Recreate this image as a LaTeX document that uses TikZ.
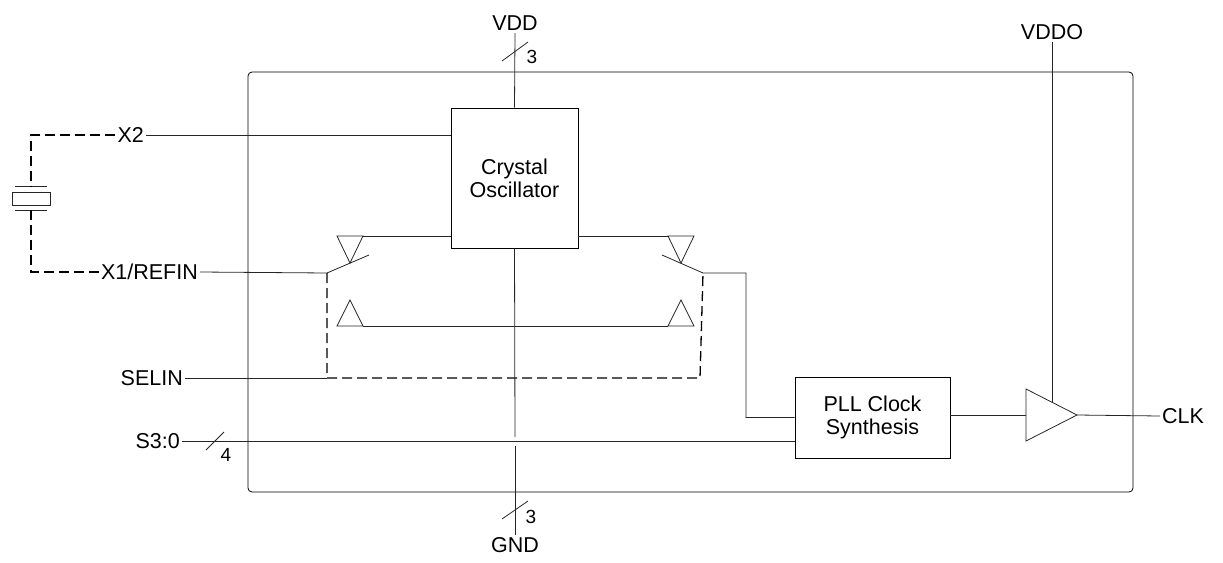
\documentclass[tikz,border=0pt]{standalone}
\usepackage{fontspec}
\setmainfont{Liberation Sans}
\usetikzlibrary{positioning}
\tikzstyle{wire} = [draw, line width=0.8pt, black!85]
\tikzstyle{dashwire} = [draw, line width=1.3pt, dash pattern=on 10pt off 5pt]
\tikzstyle{block} = [rectangle, draw, line width=0.8pt, align=center, inner sep=0pt,
font=\fontsize{21.5}{23}\selectfont]
\tikzstyle{pinname} = [inner sep=2pt, font=\fontsize{21.5}{23}\selectfont]
\tikzstyle{busnum} = [inner sep=0pt, font=\fontsize{19}{21}\selectfont]

\begin{document}
\begin{tikzpicture}[x=1pt, y=-1pt]
				\useasboundingbox (0,0) rectangle (1223,562);
				% Place nodes
				\node (chip) [rectangle, draw, line width=0.8pt, rounded corners=4pt, minimum width=885pt, minimum height=420pt] at (690.5,282) {};
				\node (xtal) [block, minimum width=127pt, minimum height=140pt] at (514.5,178) {Crystal\\Oscillator};
				\node (pll) [block, minimum width=155pt, minimum height=81pt] at (872.5,417.5) {PLL Clock\\Synthesis};
				\node (vdd) [pinname, anchor=south] at (515,33) {VDD};
				\node (gnd) [pinname, anchor=north] at (515,535) {GND};
				\node (vddo) [pinname, anchor=south] at (1052,42) {VDDO};
				\node (x2) [pinname, anchor=east] at (146,135) {X2};
				\node (x1) [pinname, anchor=east] at (200,272) {X1/REFIN};
				\node (selin) [pinname, anchor=east] at (185,378) {SELIN};
				\node (sel) [pinname, anchor=east] at (182,441) {S3:0};
				\node (clk) [pinname, anchor=west] at (1160,416) {CLK};
				\node (vddn) [busnum] at (532,57) {3};
				\node (gndn) [busnum] at (531,517) {3};
				\node (seln) [busnum] at (226,455) {4};

				% Crystal
				\coordinate (xtop) at (31,186);
				\coordinate (xbot) at (31,210);
				\draw [wire] (15,186) -- (47,186);
				\draw [wire] (15,210) -- (47,210);
				\draw [wire] (12,192) rectangle (50,205);
				\draw [dashwire] (x2.west) -| (xtop);
				\draw [dashwire] (x1.west) -| (xbot);
				\draw [wire] (x2.east) -- (xtal.west |- x2.east);

				% Switches
				\coordinate (swa) at (327,273);
				\coordinate (swb) at (703,273);
				\draw [wire] (x1.east) -- (swa) -- (369,255);
				\draw [wire] (662,255) -- (swb) -- (746,273) |- (pll.west);
				\draw [wire] (337,236) -- (363,236) -- (350,263) -- cycle;
				\draw [wire] (668,236) -- (694,236) -- (681,263) -- cycle;
				\draw [wire] (337,326) -- (363,326) -- (350,300) -- cycle;
				\draw [wire] (668,326) -- (694,326) -- (681,300) -- cycle;
				\draw [wire] (363,236) -- (xtal.west |- 0,236);
				\draw [wire] (xtal.east |- 0,236) -- (668,236);
				\draw [wire] (363,326) -- (668,326);
				\draw [dashwire] (swa) -- (327,378) -- (700,378) -- (swb);
				\draw [wire] (selin.east) -- (327,378);

				% Buffer
				\coordinate (bufin) at (1026,415);
				\coordinate (bufout) at (1077,415);
				\draw [wire] (1026,389) -- (bufout) -- (1026,441) -- cycle;
				\draw [wire] (pll.east |- bufin) -- (bufin);
				\draw [wire] (bufout) -- (clk.west);
				\draw [wire] (vddo.south) -- (1052,402);

				% Draw lines
				\draw [wire] (vdd.south) -- (xtal.north);
				\draw [wire] (xtal.south) -- (515,437);
				\draw [wire] (515,446) -- (gnd.north);
				\draw [wire] (sel.east) -- (pll.west |- 0,441);
				\draw [wire] (502,61) -- (528,42);
				\draw [wire] (502,519) -- (528,501);
				\draw [wire] (206,450) -- (224,432);

			\end{tikzpicture}
\end{document}
